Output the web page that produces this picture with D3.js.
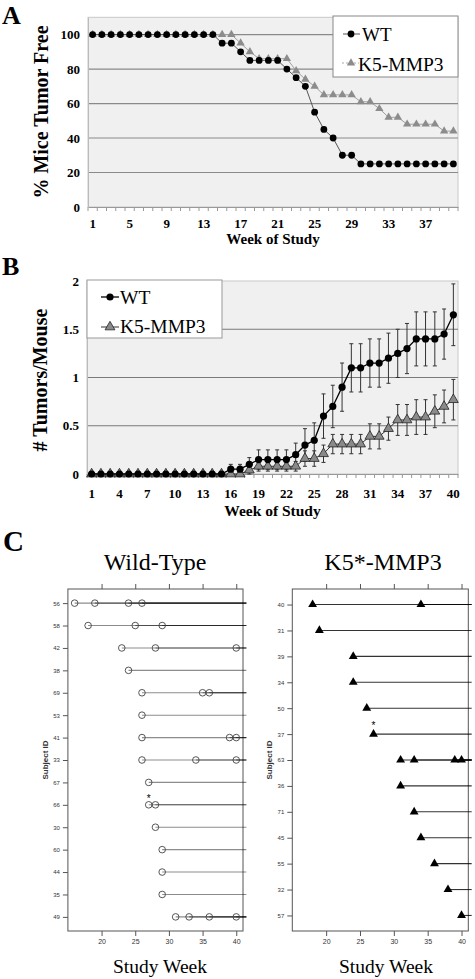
<!DOCTYPE html>
<html><head><meta charset="utf-8">
<script src="https://cdn.jsdelivr.net/npm/d3@7/dist/d3.min.js"></script>
<style>body{margin:0;background:#fff}svg{display:block}</style>
</head><body>
<svg id="c" width="475" height="979"></svg>
<script>
// ---------- DATA ----------
const weeks = [1,2,3,4,5,6,7,8,9,10,11,12,13,14,15,16,17,18,19,20,21,22,23,24,25,26,27,28,29,30,31,32,33,34,35,36,37,38,39,40];
const tickWeeksA = [1,5,9,13,17,21,25,29,33,37];
const tickWeeksB = [1,4,7,10,13,16,19,22,25,28,31,34,37,40];
const yTicksA = [0,20,40,60,80,100];
const yTicksB = [0,0.5,1,1.5,2];
const seriesNames = ["WT","K5-MMP3"];
// Panel A: % mice tumor free
const wtFree = [100,100,100,100,100,100,100,100,100,100,100,100,100,100,95,95,90,85,85,85,85,80,75,70,55,45,40,30,30,25,25,25,25,25,25,25,25,25,25,25];
const k5Free = [100,100,100,100,100,100,100,100,100,100,100,100,100,100,100,100,95,90,86,86,86,86,79,74,70,65,65,65,65,61,61,57,52,52,48,48,48,48,44,44];
// Panel B: tumors per mouse (mean and error)
const wtTum = [0,0,0,0,0,0,0,0,0,0,0,0,0,0,0,0.05,0.05,0.10,0.15,0.15,0.15,0.15,0.20,0.30,0.35,0.60,0.70,0.90,1.10,1.10,1.15,1.15,1.20,1.25,1.30,1.40,1.40,1.40,1.45,1.65];
const wtErr = [0,0,0,0,0,0,0,0,0,0,0,0,0,0,0,0.05,0.05,0.07,0.10,0.10,0.10,0.10,0.12,0.17,0.18,0.23,0.22,0.25,0.25,0.25,0.25,0.25,0.26,0.25,0.26,0.28,0.28,0.28,0.26,0.32];
const k5Tum = [0,0,0,0,0,0,0,0,0,0,0,0,0,0,0,0,0,0.04,0.08,0.08,0.08,0.08,0.08,0.16,0.16,0.21,0.31,0.31,0.31,0.31,0.39,0.39,0.47,0.56,0.56,0.59,0.59,0.65,0.70,0.77];
const k5Err = [0,0,0,0,0,0,0,0,0,0,0,0,0,0,0,0,0,0.04,0.05,0.05,0.05,0.05,0.05,0.08,0.08,0.09,0.10,0.10,0.10,0.10,0.13,0.13,0.12,0.16,0.16,0.18,0.18,0.17,0.17,0.21];
// Panel C: tumor onset weeks per subject
const wtIds = ["56","58","42","38","69","53","41","33","67","66","30","60","44","35","49"];
const wtEvents = [[16,19,24,26],[18,25,29],[23,28,40],[24],[26,35,36],[26],[26,39,40],[26,34,40],[27],[27,28],[28],[29],[29],[29],[31,33,36,40]];
const k5Ids = ["40","31","39","34","50","37","63","36","71","45","55","32","57"];
const k5Events = [[18,34],[19],[24],[24],[26],[27],[31,33,39,40],[31],[33],[34],[36],[38],[40]];
const starWt = {id:"66", week:27};
const starK5 = {id:"37", week:27};
const cTicks = [20,25,30,35,40];

// ---------- DRAW ----------
const svg = d3.select("#c");
const serif = "'Liberation Serif','Times New Roman',serif";
const sans = "'Liberation Sans',Arial,sans-serif";
const tri = s => d3.symbol().type(d3.symbolTriangle).size(s)();

function panelLetter(t,x,y,fs){
  svg.append("text").attr("x",x).attr("y",y).text(t)
    .attr("font-family",serif).attr("font-weight","bold").attr("font-size",fs);
}

// ===== Panel A =====
panelLetter("A",2,24,26);
const xA = d3.scaleBand().domain(weeks).range([88,458]);
const yA = d3.scaleLinear().domain([0,110]).range([207,17.3]);
const cxA = w => xA(w)+xA.bandwidth()/2;
const gA = svg.append("g");
gA.append("rect").attr("x",88).attr("y",yA(110)).attr("width",370).attr("height",yA(0)-yA(110))
  .attr("fill","#f0f0f0").attr("stroke","#c8c8c8");
gA.selectAll(".grid").data(yTicksA.filter(d=>d>0)).join("line")
  .attr("x1",88).attr("x2",458).attr("y1",d=>yA(d)).attr("y2",d=>yA(d))
  .attr("stroke","#8a8a8a").attr("stroke-width",1.2);
const axA = gA.append("g").attr("transform",`translate(0,${yA(0)})`)
  .call(d3.axisBottom(xA).tickValues(tickWeeksA).tickSize(0).tickPadding(12));
axA.select(".domain").attr("stroke","#999");
axA.selectAll("text").attr("font-family",serif).attr("font-weight","bold").attr("font-size",13).attr("fill","#000");
gA.selectAll(".xt").data(weeks.concat([41])).join("line")
  .attr("x1",d=>d<=40?xA(d):458).attr("x2",d=>d<=40?xA(d):458)
  .attr("y1",yA(0)).attr("y2",yA(0)+4).attr("stroke","#999");
const ayA = gA.append("g").attr("transform","translate(88,0)")
  .call(d3.axisLeft(yA).tickValues(yTicksA).tickSize(0).tickPadding(8));
ayA.select(".domain").attr("stroke","#bbb");
ayA.selectAll("text").attr("font-family",serif).attr("font-weight","bold").attr("font-size",13).attr("fill","#000");
gA.append("text").attr("transform",`translate(48,${112}) rotate(-90)`).attr("text-anchor","middle")
  .attr("font-family",serif).attr("font-weight","bold").attr("font-size",20).text("% Mice Tumor Free");
gA.append("text").attr("x",273).attr("y",244).attr("text-anchor","middle")
  .attr("font-family",serif).attr("font-weight","bold").attr("font-size",15).text("Week of Study");
const lineA = arr => d3.line().x((d,i)=>cxA(weeks[i])).y(d=>yA(d))(arr);
gA.append("path").attr("d",lineA(k5Free)).attr("fill","none").attr("stroke","#a0a0a0").attr("stroke-width",1);
gA.append("path").attr("d",lineA(wtFree)).attr("fill","none").attr("stroke","#555").attr("stroke-width",1);
gA.selectAll(".k5m").data(k5Free).join("path")
  .attr("transform",(d,i)=>`translate(${cxA(weeks[i])},${yA(d)})`).attr("d",tri(30)).attr("fill","#8c8c8c");
gA.selectAll(".wtm").data(wtFree).join("circle")
  .attr("cx",(d,i)=>cxA(weeks[i])).attr("cy",d=>yA(d)).attr("r",3.4).attr("fill","#000");
// legend A
const lgA = gA.append("g");
lgA.append("rect").attr("x",333).attr("y",16).attr("width",125).attr("height",61).attr("fill","#fff").attr("stroke","#888");
lgA.append("line").attr("x1",343).attr("x2",360).attr("y1",34).attr("y2",34).attr("stroke","#555");
lgA.append("circle").attr("cx",351).attr("cy",34).attr("r",3.4).attr("fill","#000");
lgA.append("text").attr("x",362).attr("y",40.5).attr("font-family",serif).attr("font-size",19).text(seriesNames[0]);
lgA.append("line").attr("x1",342).attr("x2",359).attr("y1",63).attr("y2",63).attr("stroke","#aaa").attr("stroke-dasharray","2,2");
lgA.append("path").attr("transform","translate(351,63)").attr("d",tri(30)).attr("fill","#8c8c8c");
lgA.append("text").attr("x",358).attr("y",71).attr("font-family",serif).attr("font-size",19.5).text(seriesNames[1]);

// ===== Panel B =====
panelLetter("B",2,275,26);
const xB = d3.scaleBand().domain(weeks).range([87,458]);
const yB = d3.scaleLinear().domain([0,2]).range([474,281]);
const cxB = w => xB(w)+xB.bandwidth()/2;
const gB = svg.append("g");
gB.append("rect").attr("x",87).attr("y",yB(2)).attr("width",371).attr("height",yB(0)-yB(2))
  .attr("fill","#f0f0f0").attr("stroke","#c8c8c8");
gB.selectAll(".grid").data(yTicksB.filter(d=>d>0&&d<2)).join("line")
  .attr("x1",87).attr("x2",458).attr("y1",d=>yB(d)).attr("y2",d=>yB(d))
  .attr("stroke","#7a7a7a").attr("stroke-width",1);
const axB = gB.append("g").attr("transform",`translate(0,${yB(0)})`)
  .call(d3.axisBottom(xB).tickValues(tickWeeksB).tickSize(0).tickPadding(15));
axB.select(".domain").attr("stroke","#999");
axB.selectAll("text").attr("font-family",serif).attr("font-weight","bold").attr("font-size",13).attr("fill","#000");
gB.selectAll(".xt").data(weeks.concat([41])).join("line")
  .attr("x1",d=>d<=40?xB(d):458).attr("x2",d=>d<=40?xB(d):458)
  .attr("y1",yB(0)).attr("y2",yB(0)+4).attr("stroke","#999");
const ayB = gB.append("g").attr("transform","translate(87,0)")
  .call(d3.axisLeft(yB).tickValues(yTicksB).tickFormat(d=>String(d)).tickSize(0).tickPadding(8));
ayB.select(".domain").attr("stroke","#bbb");
ayB.selectAll("text").attr("font-family",serif).attr("font-weight","bold").attr("font-size",13).attr("fill","#000");
gB.append("text").attr("transform",`translate(47,${380}) rotate(-90)`).attr("text-anchor","middle")
  .attr("font-family",serif).attr("font-weight","bold").attr("font-size",20).text("# Tumors/Mouse");
gB.append("text").attr("x",272.5).attr("y",516).attr("text-anchor","middle")
  .attr("font-family",serif).attr("font-weight","bold").attr("font-size",15.5).text("Week of Study");
function errBars(vals, errs){
  const d = vals.map((v,i)=>({w:weeks[i],v,e:errs[i]})).filter(o=>o.e>0);
  const g = gB.append("g").attr("stroke","#333").attr("stroke-width",1);
  g.selectAll("line.v").data(d).join("line").attr("x1",o=>cxB(o.w)).attr("x2",o=>cxB(o.w))
    .attr("y1",o=>yB(o.v-o.e)).attr("y2",o=>yB(o.v+o.e));
  g.selectAll("line.t").data(d).join("line").attr("x1",o=>cxB(o.w)-2).attr("x2",o=>cxB(o.w)+2)
    .attr("y1",o=>yB(o.v+o.e)).attr("y2",o=>yB(o.v+o.e));
  g.selectAll("line.b").data(d).join("line").attr("x1",o=>cxB(o.w)-2).attr("x2",o=>cxB(o.w)+2)
    .attr("y1",o=>yB(o.v-o.e)).attr("y2",o=>yB(o.v-o.e));
}
errBars(k5Tum,k5Err);
errBars(wtTum,wtErr);
const lineB = arr => d3.line().x((d,i)=>cxB(weeks[i])).y(d=>yB(d))(arr);
gB.append("path").attr("d",lineB(k5Tum)).attr("fill","none").attr("stroke","#333").attr("stroke-width",1);
gB.append("path").attr("d",lineB(wtTum)).attr("fill","none").attr("stroke","#000").attr("stroke-width",1.3);
gB.selectAll(".k5m").data(k5Tum).join("path")
  .attr("transform",(d,i)=>`translate(${cxB(weeks[i])},${yB(d)})`).attr("d",tri(42))
  .attr("fill","#8a8a8a").attr("stroke","#222").attr("stroke-width",0.8);
gB.selectAll(".wtm").data(wtTum).join("circle")
  .attr("cx",(d,i)=>cxB(weeks[i])).attr("cy",d=>yB(d)).attr("r",3.6).attr("fill","#000");
// legend B
const lgB = gB.append("g");
lgB.append("rect").attr("x",87).attr("y",280).attr("width",135).attr("height",58).attr("fill","#fff").attr("stroke","#999");
lgB.append("line").attr("x1",101).attr("x2",119).attr("y1",297).attr("y2",297).attr("stroke","#000").attr("stroke-width",1.3);
lgB.append("circle").attr("cx",110).attr("cy",297).attr("r",3.6).attr("fill","#000");
lgB.append("text").attr("x",120).attr("y",303.5).attr("font-family",serif).attr("font-size",19.5).text(seriesNames[0]);
lgB.append("line").attr("x1",101).attr("x2",119).attr("y1",327).attr("y2",327).attr("stroke","#333");
lgB.append("path").attr("transform","translate(110,327)").attr("d",tri(42)).attr("fill","#8a8a8a").attr("stroke","#222").attr("stroke-width",0.8);
lgB.append("text").attr("x",120).attr("y",333).attr("font-family",serif).attr("font-size",19.5).text(seriesNames[1]);

// ===== Panel C =====
panelLetter("C",3,551,29);
function swimmer(opt){
  const g = svg.append("g");
  const x = d3.scaleLinear().domain([15,41]).range([opt.x0,opt.x1]);
  const y = d3.scalePoint().domain(opt.ids).range([589,931]).padding(opt.pad);
  g.append("rect").attr("x",opt.x0).attr("y",589).attr("width",opt.x1-opt.x0).attr("height",342)
    .attr("fill","none").attr("stroke","#555").attr("stroke-width",1);
  const ax = g.append("g").attr("transform","translate(0,931)")
    .call(d3.axisBottom(x).tickValues(cTicks).tickSize(5).tickPadding(3));
  ax.select(".domain").remove();
  ax.selectAll("line").attr("stroke","#555");
  ax.selectAll("text").attr("font-family",sans).attr("font-size",7).attr("fill","#333");
  const at = g.append("g").attr("transform","translate(0,589)")
    .call(d3.axisTop(x).tickValues(cTicks).tickSize(5).tickFormat(""));
  at.select(".domain").remove();
  at.selectAll("line").attr("stroke","#555");
  const ay = g.append("g").attr("transform",`translate(${opt.x0},0)`)
    .call(d3.axisLeft(y).tickSize(5).tickPadding(3));
  ay.select(".domain").remove();
  ay.selectAll("line").attr("stroke","#555");
  ay.selectAll("text").attr("font-family",sans).attr("font-size",6).attr("fill","#333");
  g.append("text").attr("transform",`translate(${opt.x0-20},760) rotate(-90)`).attr("text-anchor","middle")
    .attr("font-family",sans).attr("font-weight","bold").attr("font-size",8).attr("fill","#333").text("Subject ID");
  g.append("text").attr("x",opt.tx).attr("y",570).attr("text-anchor","middle")
    .attr("font-family",serif).attr("font-size",24).text(opt.title);
  g.append("text").attr("x",opt.sx).attr("y",973).attr("text-anchor","middle")
    .attr("font-family",serif).attr("font-size",19.5).text("Study Week");
  const segs = [];
  opt.ids.forEach((id,i)=>opt.events[i].forEach(w=>segs.push({id,w})));
  g.selectAll(".seg").data(segs).join("line")
    .attr("x1",d=>x(d.w)).attr("x2",x(41.5)).attr("y1",d=>y(d.id)).attr("y2",d=>y(d.id))
    .attr("stroke",opt.lineColor).attr("stroke-opacity",opt.lineOpacity).attr("stroke-width",1.1);
  if(opt.marker==="circle"){
    g.selectAll(".ev").data(segs).join("circle").attr("cx",d=>x(d.w)).attr("cy",d=>y(d.id)).attr("r",3.3)
      .attr("fill","none").attr("stroke","#444").attr("stroke-width",0.9);
  } else {
    g.selectAll(".ev").data(segs).join("path").attr("transform",d=>`translate(${x(d.w)},${y(d.id)})`)
      .attr("d",tri(34)).attr("fill","#000");
  }
  g.append("text").attr("x",x(opt.star.week)).attr("y",y(opt.star.id)-opt.starDy).attr("text-anchor","middle")
    .attr("font-family",sans).attr("font-size",10).attr("fill","#000").text("*");
}
swimmer({ids:wtIds,events:wtEvents,x0:67.9,x1:243,pad:0.63,title:"Wild-Type",tx:155,sx:160,
  marker:"circle",lineColor:"#000",lineOpacity:0.45,star:starWt,starDy:3});
swimmer({ids:k5Ids,events:k5Events,x0:292.3,x1:468.3,pad:0.6,title:"K5*-MMP3",tx:383,sx:386,
  marker:"triangle",lineColor:"#000",lineOpacity:0.8,star:starK5,starDy:5});
</script>
</body></html>
